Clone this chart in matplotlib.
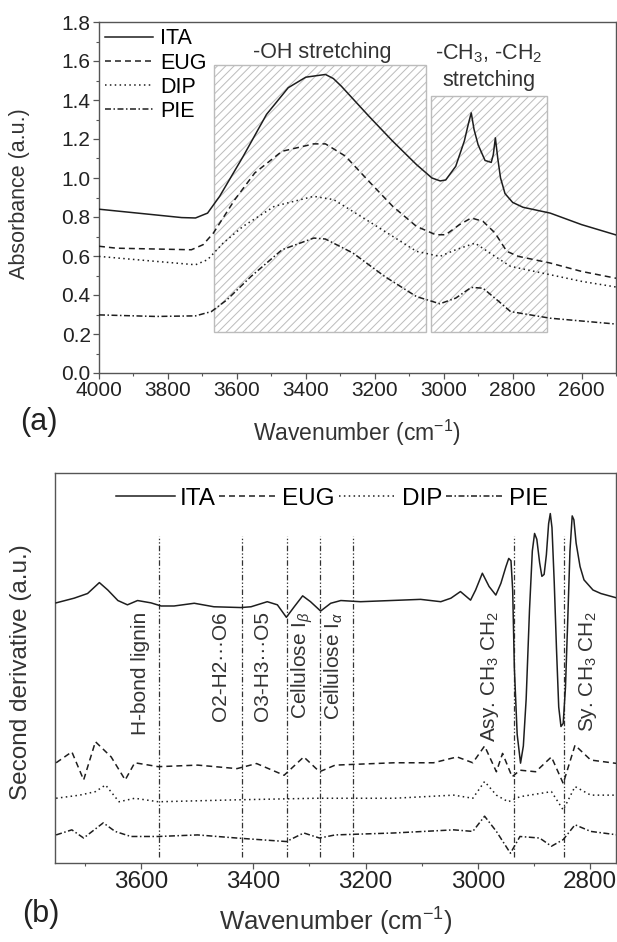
import matplotlib
matplotlib.use("Agg")
import matplotlib.pyplot as plt
from matplotlib.patches import Rectangle
from matplotlib.ticker import MultipleLocator

plt.rcParams['font.family'] = ['Liberation Sans', 'DejaVu Sans']
plt.rcParams['mathtext.fontset'] = 'custom'
plt.rcParams['mathtext.rm'] = 'Liberation Sans'
plt.rcParams['mathtext.it'] = 'Liberation Sans:italic'
plt.rcParams['mathtext.bf'] = 'Liberation Sans:bold'
plt.rcParams['lines.scale_dashes'] = False
plt.rcParams['hatch.linewidth'] = 0.7

# ---- panel (a): absorbance spectra ----
SAMPLES = ["ITA", "EUG", "DIP", "PIE"]

ita_a_x = [4000, 3860, 3760, 3720, 3685, 3650, 3582, 3514, 3451, 3400, 3343, 3320, 3297, 3217, 3148,
           3079, 3034, 3010, 2994, 2965, 2940, 2928, 2920, 2912, 2900, 2880, 2862, 2856, 2850, 2843,
           2835, 2822, 2800, 2770, 2691, 2600, 2500]
ita_a_y = [0.84, 0.815, 0.797, 0.795, 0.82, 0.906, 1.11, 1.326, 1.463, 1.517, 1.531, 1.51, 1.471, 1.317, 1.189,
           1.069, 1.0, 0.985, 0.99, 1.06, 1.19, 1.28, 1.334, 1.25, 1.17, 1.09, 1.08, 1.12, 1.206, 1.10,
           1.0, 0.92, 0.875, 0.85, 0.82, 0.761, 0.708]

eug_a_x = [4000, 3949, 3732, 3698, 3668, 3606, 3548, 3469, 3377, 3343, 3285, 3217, 3148, 3079,
           3023, 2994, 2954, 2920, 2886, 2851, 2817, 2783, 2691, 2600, 2500]
eug_a_y = [0.65, 0.64, 0.632, 0.658, 0.718, 0.889, 1.026, 1.137, 1.175, 1.175, 1.112, 0.983, 0.855, 0.752,
           0.709, 0.709, 0.761, 0.795, 0.778, 0.718, 0.624, 0.598, 0.564, 0.521, 0.486]

dip_a_x = [4000, 3891, 3720, 3685, 3640, 3582, 3491, 3377, 3319, 3240, 3148, 3079, 3011, 2965,
           2909, 2851, 2806, 2691, 2600, 2500]
dip_a_y = [0.598, 0.581, 0.555, 0.581, 0.666, 0.752, 0.855, 0.906, 0.889, 0.803, 0.701, 0.624, 0.598, 0.632,
           0.666, 0.598, 0.547, 0.504, 0.470, 0.441]

pie_a_x = [4000, 3835, 3720, 3674, 3629, 3559, 3469, 3377, 3343, 3263, 3171, 3079, 3011, 2965,
           2920, 2886, 2840, 2806, 2691, 2500]
pie_a_y = [0.298, 0.290, 0.293, 0.315, 0.375, 0.495, 0.632, 0.692, 0.687, 0.615, 0.495, 0.392, 0.355, 0.384,
           0.439, 0.435, 0.367, 0.315, 0.281, 0.251]

# hatched regions (x from, x to, y top)
OH_BOX = (3667, 3050, 1.58)
CH_BOX = (3036, 2700, 1.42)
BOX_BOTTOM = 0.21

# ---- panel (b): second derivative ----
ita_b_x = [3751, 3719, 3695, 3674, 3659, 3641, 3624, 3606, 3582, 3564, 3541, 3505, 3470, 3422, 3404,
           3375, 3357, 3341, 3327, 3312, 3298, 3280, 3262, 3244, 3209, 3137, 3102, 3066, 3048, 3031,
           3013, 3004, 2992, 2980, 2968, 2959, 2950, 2945, 2941, 2938, 2935, 2930, 2924, 2919, 2914,
           2908, 2903, 2899, 2895, 2890, 2886, 2882, 2878, 2874, 2871, 2868, 2864, 2860, 2856, 2852,
           2848, 2844, 2840, 2836, 2832, 2829, 2825, 2818, 2811, 2795, 2781, 2751]
ita_b_y = [66.7, 67.9, 69.1, 71.9, 70.0, 67.3, 66.2, 67.3, 66.7, 65.9, 65.9, 66.6, 65.7, 65.5, 65.7,
           67.0, 66.2, 63.0, 65.7, 68.5, 67.0, 64.6, 66.6, 67.3, 67.0, 67.4, 67.6, 67.0, 67.9, 69.6,
           67.4, 70.0, 74.3, 70.9, 68.7, 71.7, 76.0, 78.1, 77.5, 70.0, 50.0, 33.0, 25.6, 30.0, 42.0,
           65.0, 80.0, 84.5, 83.0, 77.0, 73.5, 74.0, 79.0, 87.0, 89.6, 86.0, 72.0, 55.0, 40.0, 35.0,
           35.8, 45.0, 62.0, 80.0, 89.0, 88.0, 82.0, 76.0, 72.6, 70.0, 69.1, 67.9]

eug_b_x = [3751, 3723, 3702, 3681, 3653, 3628, 3611, 3569, 3499, 3429, 3394, 3345, 3310, 3282, 3254,
           3149, 3079, 3037, 3009, 2988, 2967, 2956, 2939, 2925, 2897, 2869, 2848, 2827, 2799, 2751]
eug_b_y = [25.7, 28.5, 21.3, 31.1, 27.2, 21.3, 25.7, 24.7, 25.1, 24.2, 25.5, 22.5, 27.2, 23.4, 25.1,
           25.7, 25.7, 27.2, 25.7, 30.0, 23.4, 28.1, 22.1, 23.8, 23.4, 27.2, 20.4, 30.2, 26.4, 25.5]

dip_b_x = [3751, 3709, 3681, 3663, 3639, 3611, 3569, 3429, 3289, 3149, 3043, 3009, 2988, 2967,
           2946, 2925, 2869, 2848, 2827, 2799, 2751]
dip_b_y = [16.6, 17.4, 18.3, 20.0, 15.7, 16.6, 15.7, 16.2, 16.6, 16.6, 17.4, 16.6, 20.9, 17.4,
           15.7, 17.0, 18.3, 13.6, 19.6, 17.4, 17.4]

pie_b_x = [3751, 3723, 3702, 3667, 3646, 3618, 3569, 3499, 3429, 3341, 3310, 3282, 3254, 3149,
           3043, 3009, 2988, 2967, 2942, 2925, 2890, 2869, 2848, 2827, 2799, 2751]
pie_b_y = [7.2, 8.5, 6.4, 10.3, 8.1, 6.8, 6.8, 7.2, 6.4, 5.5, 7.7, 6.4, 7.2, 7.7,
           8.5, 8.1, 12.0, 8.1, 2.5, 6.8, 6.4, 4.3, 6.0, 9.8, 8.1, 7.2]

# band assignments: line position, label, label position
BAND_LINES = [3567, 3420, 3339, 3281, 3223, 2936, 2847]
BAND_LABELS = ["H-bond lignin", "O2-H2\u00b7\u00b7\u00b7O6", "O3-H3\u00b7\u00b7\u00b7O5",
               r"Cellulose I$_\beta$", r"Cellulose I$_\alpha$",
               r"Asy. CH$_3$ CH$_2$", r"Sy. CH$_3$ CH$_2$"]
BAND_LABEL_X = [3600, 3458, 3383, 3312, 3257, 2979, 2803]

INK = '#1e1e1e'
TXT = '#333333'
STYLES = [
    dict(linestyle='-'),
    dict(linestyle=(0, (4.3, 2.9))),
    dict(linestyle=(0, (1.1, 2.4))),
    dict(linestyle=(0, (4.3, 1.8, 1.1, 1.8))),
]

W, H = 617, 942
fig = plt.figure(figsize=(W / 100, H / 100), dpi=100)


def style_axes(ax, fs):
    for s in ax.spines.values():
        s.set_color('#555555')
        s.set_linewidth(1.0)
    ax.tick_params(which='major', direction='out', length=4, width=0.9, color='#555555',
                   labelsize=fs, pad=2, labelcolor='#222222')
    ax.tick_params(which='minor', direction='out', length=2.5, width=0.8, color='#555555')


# ---------------- (a) ----------------
ax_a = fig.add_axes([99 / W, 1 - 373 / H, 517 / W, 351 / H])
for (x0, x1, top) in [OH_BOX, CH_BOX]:
    ax_a.add_patch(Rectangle((x1, BOX_BOTTOM), x0 - x1, top - BOX_BOTTOM, facecolor='white',
                             edgecolor='#bcbcbc', hatch='////', lw=1.0, zorder=1))

series_a = [(ita_a_x, ita_a_y), (eug_a_x, eug_a_y), (dip_a_x, dip_a_y), (pie_a_x, pie_a_y)]
for (xs, ys), name, st in zip(series_a, SAMPLES, STYLES):
    ax_a.plot(xs, ys, color=INK, lw=1.1, label=name, zorder=3, **st)

ax_a.set_xlim(4000, 2500)
ax_a.set_ylim(0, 1.8)
ax_a.xaxis.set_major_locator(MultipleLocator(200))
ax_a.xaxis.set_minor_locator(MultipleLocator(100))
ax_a.yaxis.set_major_locator(MultipleLocator(0.2))
ax_a.yaxis.set_minor_locator(MultipleLocator(0.1))
ax_a.yaxis.set_major_formatter(plt.FormatStrFormatter('%.1f'))
style_axes(ax_a, 15)
ax_a.set_ylabel('Absorbance (a.u.)', fontsize=15.5, color=TXT)
ax_a.yaxis.set_label_coords(-0.133, 0.51)

ax_a.text(3352, 1.645, '-OH stretching', fontsize=15.5, ha='center', va='center', color=TXT)
ax_a.text(2868, 1.57, '-CH$_3$, -CH$_2$\nstretching', fontsize=15.5, ha='center', va='center',
          color=TXT, linespacing=1.3)

ax_a.legend(loc='upper left', bbox_to_anchor=(0.012, 0.982), frameon=False, fontsize=15.5,
            handlelength=2.2, handletextpad=0.35, labelspacing=0.15, borderpad=0, borderaxespad=0)

fig.text(39 / W, 1 - 422 / H, '(a)', fontsize=22, ha='center', va='center', color='#222222')
fig.text(357 / W, 1 - 433 / H, 'Wavenumber (cm$^{-1}$)', fontsize=16.5, ha='center', va='center',
         color=TXT)

# ---------------- (b) ----------------
ax_b = fig.add_axes([55 / W, 1 - 863 / H, 561 / W, 390 / H])
series_b = [(ita_b_x, ita_b_y), (eug_b_x, eug_b_y), (dip_b_x, dip_b_y), (pie_b_x, pie_b_y)]
for (xs, ys), name, st in zip(series_b, SAMPLES, STYLES):
    ax_b.plot(xs, ys, color=INK, lw=1.1, label=name, zorder=3, **st)

ax_b.vlines(BAND_LINES, 1.6, 83.8, colors=TXT, lw=0.9,
            linestyles=[(0, (4, 1.5, 1, 1.5, 1, 1.5))], zorder=2)
for xl, lab in zip(BAND_LABEL_X, BAND_LABELS):
    ax_b.text(xl, 64.5, lab, rotation=90, fontsize=15, ha='center', va='top', color=TXT)

ax_b.set_xlim(3753, 2754)
ax_b.set_ylim(0, 100)
ax_b.xaxis.set_major_locator(MultipleLocator(200))
ax_b.xaxis.set_minor_locator(MultipleLocator(100))
ax_b.set_yticks([])
style_axes(ax_b, 17.5)
ax_b.set_ylabel('Second derivative (a.u.)', fontsize=17.5, color=TXT)
ax_b.yaxis.set_label_coords(-0.041, 0.49)

ax_b.legend(loc='upper center', bbox_to_anchor=(0.494, 0.962), ncol=4, frameon=False, fontsize=17.5,
            handlelength=2.4, handletextpad=0.2, columnspacing=0.15, borderpad=0, borderaxespad=0)

fig.text(41 / W, 1 - 914 / H, '(b)', fontsize=22, ha='center', va='center', color='#222222')
fig.text(336 / W, 1 - 922 / H, 'Wavenumber (cm$^{-1}$)', fontsize=18.5, ha='center', va='center',
         color=TXT)

fig.savefig('out.png', dpi=100)
